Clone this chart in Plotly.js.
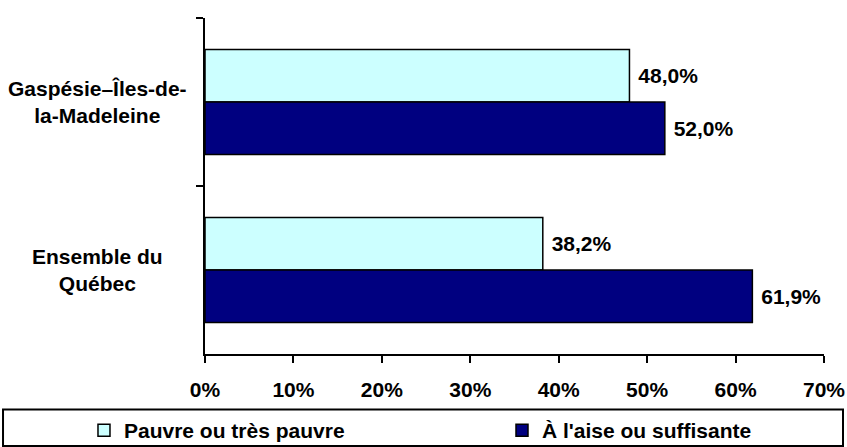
<!DOCTYPE html>
<html><head><meta charset="utf-8">
<script src="https://cdn.plot.ly/plotly-3.0.1.min.js"></script>
<style>body{margin:0;background:#fff}#chart{width:847px;height:447px}</style>
</head><body><div id="chart"></div>
<script>
const categories = ["Gaspésie–Îles-de-la-Madeleine", "Ensemble du Québec"];
const categoryLabels = ["Gaspésie–Îles-de-<br>la-Madeleine", "Ensemble du<br>Québec"];
const seriesNames = ["Pauvre ou très pauvre", "À l'aise ou suffisante"];
const pauvre = [48.0, 38.2];
const aise = [52.0, 61.9];

const FONT = "Liberation Sans, Arial, sans-serif";
function barTrace(name, values, color, legendId) {
  return {
    type: "bar", orientation: "h", name: name, legend: legendId,
    x: values, y: categories,
    marker: {color: color, line: {color: "#000", width: 1.5}},
    texttemplate: " %{x:.1f}%", textposition: "outside",
    textfont: {family: FONT, size: 21, color: "#000", weight: "bold"},
    cliponaxis: false, hoverinfo: "skip"
  };
}
const data = [
  barTrace(seriesNames[0], pauvre, "#CCFFFF", "legend"),
  barTrace(seriesNames[1], aise, "#000080", "legend2")
];

const annotations = categories.map((c, i) => ({
  xref: "paper", yref: "y", x: -0.173, y: c, xanchor: "center", yanchor: "middle",
  text: "<b>" + categoryLabels[i] + "</b>", showarrow: false, align: "center",
  font: {family: FONT, size: 21, color: "#000"}
}));

function legendBox(x) {
  return {
    orientation: "h", x: x, xanchor: "left", y: -0.1667, yanchor: "top",
    font: {family: FONT, size: 21, color: "#000", weight: "bold"},
    bgcolor: "rgba(0,0,0,0)", borderwidth: 0
  };
}

const layout = {
  width: 847, height: 447,
  margin: {l: 205, r: 23, t: 18, b: 93, autoexpand: false},
  paper_bgcolor: "#fff", plot_bgcolor: "#fff",
  separators: ", ",
  barmode: "group", bargap: 0.375, bargroupgap: 0,
  font: {family: FONT, color: "#000"},
  xaxis: {
    range: [0, 70], dtick: 10, ticksuffix: "%", showgrid: false, zeroline: false,
    showline: true, linecolor: "#000", linewidth: 2,
    ticks: "outside", ticklen: 7, tickwidth: 2, tickcolor: "#000",
    ticklabelstandoff: 9,
    tickfont: {family: FONT, size: 21, color: "#000", weight: "bold"}
  },
  yaxis: {
    type: "category", categoryorder: "array", categoryarray: categories,
    autorange: "reversed", showgrid: false, zeroline: false,
    showline: true, linecolor: "#000", linewidth: 2,
    ticks: "outside", tickson: "boundaries", ticklen: 7, tickwidth: 2, tickcolor: "#000",
    showticklabels: false
  },
  showlegend: true,
  legend: legendBox(-0.1955),
  legend2: legendBox(0.4798),
  shapes: [{
    type: "rect", xref: "paper", yref: "paper",
    x0: -0.3263, x1: 1.0307, y0: -0.274, y1: -0.165,
    line: {color: "#000", width: 2}, fillcolor: "rgba(0,0,0,0)", layer: "below"
  }],
  annotations: annotations
};
Plotly.newPlot("chart", data, layout, {displayModeBar: false, staticPlot: true});
</script></body></html>
